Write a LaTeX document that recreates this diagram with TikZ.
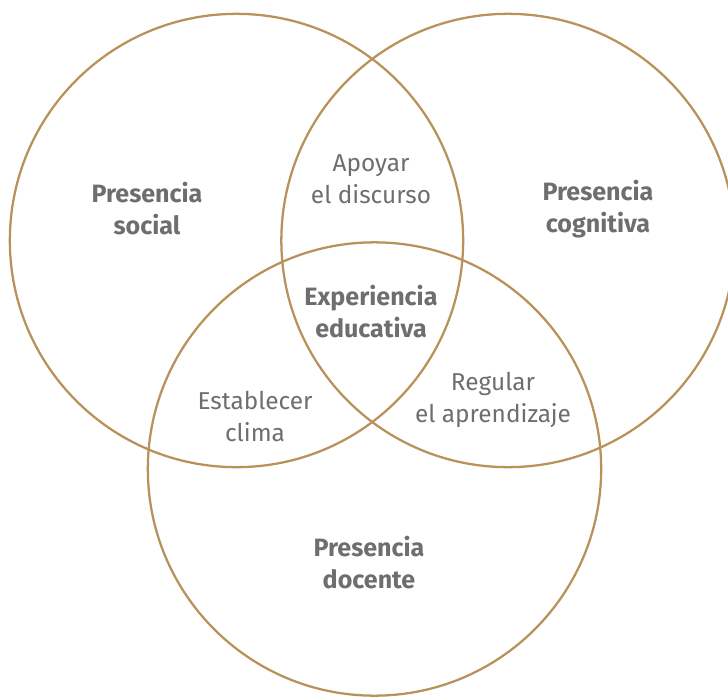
\documentclass[tikz,border=0pt]{standalone}
\usepackage{fontspec}
\setmainfont{Fira Sans}
\usepackage{xcolor}
\usepackage{tikz}
\definecolor{ring}{RGB}{184,146,90}
\definecolor{txt}{RGB}{110,110,110}
\tikzset{
  ring/.style={circle, draw=ring, line width=1.7pt, minimum size=340pt, inner sep=0pt},
  big/.style={align=center, text=txt, font=\fontsize{18.8}{24}\selectfont\bfseries},
  small/.style={align=center, text=txt, font=\fontsize{18.3}{24}\selectfont}
}
\begin{document}
\begin{tikzpicture}[x=0.75pt, y=-0.75pt]
        \useasboundingbox (0, 0) rectangle (728, 696);
        \node (social) at (236.5, 240.5) [ring] {};
        \node (cognitiva) at (508, 240.5) [ring] {};
        \node (docente) at (374.5, 469) [ring] {};
        \node (tsocial) at (147, 209) [big] {Presencia\\social};
        \node (tcognitiva) at (598, 209) [big] {Presencia\\cognitiva};
        \node (tdocente) at (369, 563) [big] {Presencia\\docente};
        \node (texperiencia) at (371, 312) [big] {Experiencia\\educativa};
        \node (tapoyar) at (371, 179) [small] {Apoyar\\el discurso};
        \node (testablecer) at (255, 416) [small] {Establecer\\clima};
        \node (tregular) at (493, 400) [small] {Regular\\el aprendizaje};
    \end{tikzpicture}
\end{document}
